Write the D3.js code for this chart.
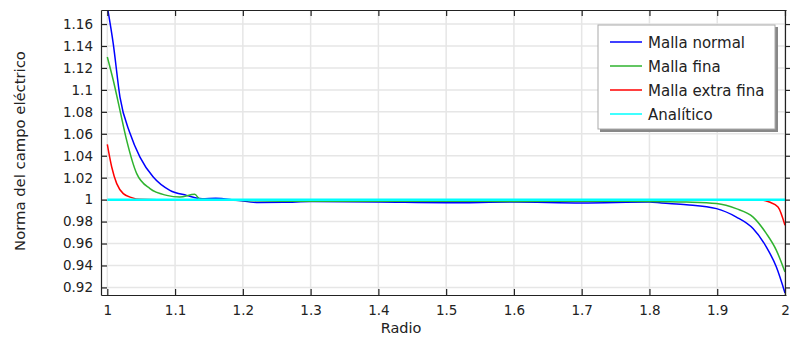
<!DOCTYPE html>
<html>
<head>
<meta charset="utf-8">
<script src="https://cdn.jsdelivr.net/npm/d3@7"></script>
<style>
  html, body { margin: 0; padding: 0; background: #fff; }
  svg { display: block; font-family: "DejaVu Sans", sans-serif; }
</style>
</head>
<body>
<svg id="chart" width="790" height="340"></svg>
<script>
// Radius values (x) and electric field norm (y) for each mesh
const normalR = [1.0, 1.0088, 1.0187, 1.0335, 1.0482, 1.0678, 1.0923, 1.117, 1.14, 1.16, 1.19, 1.22, 1.26, 1.3, 1.4, 1.5, 1.6, 1.7, 1.8, 1.8177, 1.8546, 1.899, 1.9283, 1.9528, 1.9726, 1.9873, 2.0];
const normalE = [1.176, 1.142, 1.0935, 1.0604, 1.0388, 1.0206, 1.0085, 1.0039, 1.0008, 1.0012, 0.9995, 0.9975, 0.9976, 0.9982, 0.9978, 0.9972, 0.9978, 0.9970, 0.9978, 0.9969, 0.9954, 0.9918, 0.9841, 0.9736, 0.9568, 0.9386, 0.9150];

const fineR = [1.0, 1.0088, 1.0187, 1.0286, 1.0434, 1.063, 1.0876, 1.107, 1.129, 1.137, 1.2, 1.3, 1.4, 1.5, 1.6, 1.7, 1.8, 1.8546, 1.899, 1.928, 1.953, 1.9726, 1.9873, 2.0];
const fineE = [1.13, 1.1088, 1.0814, 1.054, 1.0237, 1.01, 1.0039, 1.0024, 1.0048, 1.0003, 0.9992, 0.9985, 0.9985, 0.9986, 0.9984, 0.9986, 0.9984, 0.9978, 0.9964, 0.9918, 0.9841, 0.969, 0.9538, 0.934];

const extraR = [1.0, 1.0065, 1.0139, 1.0236, 1.036, 1.048, 1.1, 1.2, 1.3, 1.4, 1.5, 1.6, 1.7, 1.8, 1.9, 1.9627, 1.977, 1.9897, 2.0];
const extraE = [1.0504, 1.0297, 1.0146, 1.0055, 1.0018, 1.0003, 0.9996, 0.9997, 0.9998, 0.9998, 0.9997, 0.9998, 0.9998, 0.9998, 0.9998, 0.9998, 0.9978, 0.9933, 0.9766];

const analyticR = [1.0, 2.0];
const analyticE = [1.0, 1.0];

const xTicks = [1, 1.1, 1.2, 1.3, 1.4, 1.5, 1.6, 1.7, 1.8, 1.9, 2];
const yTicks = [0.92, 0.94, 0.96, 0.98, 1, 1.02, 1.04, 1.06, 1.08, 1.1, 1.12, 1.14, 1.16];

const seriesNames = ["Malla normal", "Malla fina", "Malla extra fina", "Analítico"];
const seriesColors = ["#0000ff", "#2fb32f", "#ff0000", "#00ffff"];

const svg = d3.select("#chart");
const pLeft = 101, pRight = 786, pTop = 10, pBottom = 295;

const x = d3.scaleLinear().domain([0.9907, 2.0015]).range([pLeft, pRight]);
const y = d3.scaleLinear().domain([0.9131, 1.1728]).range([pBottom, pTop]);

// grid
const grid = svg.append("g");
grid.selectAll("line.vx").data(xTicks).join("line")
  .attr("x1", d => x(d)).attr("x2", d => x(d))
  .attr("y1", pTop).attr("y2", pBottom)
  .attr("stroke", "#e6e6e6").attr("stroke-width", 1.5);
grid.selectAll("line.hy").data(yTicks).join("line")
  .attr("x1", pLeft).attr("x2", pRight)
  .attr("y1", d => y(d)).attr("y2", d => y(d))
  .attr("stroke", "#e6e6e6").attr("stroke-width", 1.5);

// curves
svg.append("defs").append("clipPath").attr("id", "plotClip")
  .append("rect").attr("x", pLeft).attr("y", pTop)
  .attr("width", pRight - pLeft).attr("height", pBottom - pTop);

const series = [
  [normalR, normalE],
  [fineR, fineE],
  [extraR, extraE],
  [analyticR, analyticE]
];

const line = d3.line().x(d => x(d[0])).y(d => y(d[1])).curve(d3.curveMonotoneX);
const plot = svg.append("g").attr("clip-path", "url(#plotClip)");
series.forEach((s, i) => {
  const pts = s[0].map((r, k) => [r, s[1][k]]);
  plot.append("path").datum(pts)
    .attr("d", line)
    .attr("fill", "none")
    .attr("stroke", seriesColors[i])
    .attr("stroke-width", i === 3 ? 2.5 : 1.5)
    .attr("stroke-linejoin", "round");
});

// axes with inward ticks
const axisColor = "#222";
const bottomAxis = d3.axisBottom(x).tickValues(xTicks).tickSizeInner(-6).tickSizeOuter(0)
  .tickPadding(10).tickFormat(d3.format("~g"));
const leftAxis = d3.axisLeft(y).tickValues(yTicks).tickSizeInner(-6).tickSizeOuter(0)
  .tickPadding(8).tickFormat(d3.format("~g"));
const topAxis = d3.axisTop(x).tickValues(xTicks).tickSizeInner(-6).tickSizeOuter(0).tickFormat("");
const rightAxis = d3.axisRight(y).tickValues(yTicks).tickSizeInner(5).tickSizeOuter(0).tickFormat("");

function styleAxis(g) {
  g.select(".domain").attr("stroke", axisColor).attr("stroke-width", 1.2);
  g.selectAll(".tick line").attr("stroke", axisColor).attr("stroke-width", 1.2);
  g.selectAll(".tick text").attr("fill", "#222").attr("font-size", 13.5)
    .attr("font-family", "DejaVu Sans, sans-serif");
}

svg.append("g").attr("transform", `translate(0,${pBottom})`).call(bottomAxis).call(styleAxis);
svg.append("g").attr("transform", `translate(${pLeft},0)`).call(leftAxis).call(styleAxis);
svg.append("g").attr("transform", `translate(0,${pTop})`).call(topAxis).call(styleAxis);
svg.append("g").attr("transform", `translate(${x(2)},0)`).call(rightAxis).call(styleAxis);

// axis titles
svg.append("text").attr("x", 401).attr("y", 333)
  .attr("text-anchor", "middle").attr("font-size", 14.5).attr("fill", "#222").text("Radio");
svg.append("text").attr("transform", "translate(25,151) rotate(-90)")
  .attr("text-anchor", "middle").attr("font-size", 14.8).attr("fill", "#222")
  .text("Norma del campo eléctrico");

// legend
const lg = svg.append("g").attr("transform", "translate(598,25)");
lg.append("rect").attr("x", 2).attr("y", 2).attr("width", 178).attr("height", 105).attr("fill", "#888");
lg.append("rect").attr("x", 0).attr("y", 0).attr("width", 177).attr("height", 104)
  .attr("fill", "#fff").attr("stroke", "#aaa").attr("stroke-width", 1);
seriesNames.forEach((name, i) => {
  const yy = 17 + i * 24;
  lg.append("line").attr("x1", 12).attr("x2", 44).attr("y1", yy).attr("y2", yy)
    .attr("stroke", seriesColors[i]).attr("stroke-width", 1.5);
  lg.append("text").attr("x", 50).attr("y", yy + 5.5).attr("font-size", 15)
    .attr("fill", "#222").text(name);
});
</script>
</body>
</html>
